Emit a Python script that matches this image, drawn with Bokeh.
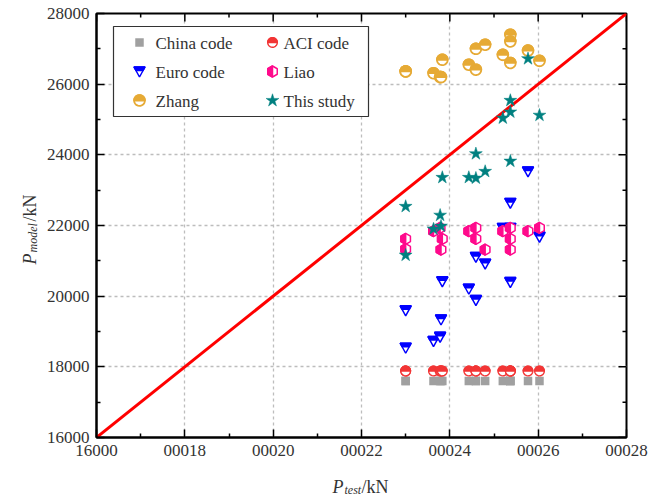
import numpy as np
from bokeh.plotting import figure
from bokeh.layouts import row, column
from bokeh.models import Range1d, FixedTicker, Label
from bokeh.embed import file_html
from bokeh.resources import INLINE

# ---------------- data ----------------
p_test = [23000, 23000, 23630, 23780, 23800, 23830, 24430, 24590,
          24590, 24800, 25200, 25370, 25370, 25370, 25770, 26030]
china_code = [17600, 17600, 17600, 17600, 17600, 17600, 17600, 17600,
              17600, 17600, 17600, 17600, 17600, 17600, 17600, 17600]
aci_code = [17880, 17880, 17880, 17880, 17880, 17880, 17880, 17880,
            17880, 17880, 17880, 17880, 17880, 17880, 17880, 17880]
euro_code = [19600, 18540, 18730, 18850, 19340, 20420, 20210, 21110,
             19890, 20920, 21930, 22640, 20400, 21930, 23530, 21680]
liao = [21620, 21330, 21840, 21930, 21320, 21620, 21840, 21930,
        21620, 21320, 21840, 21930, 21620, 21320, 21840, 21930]
zhang = [26360, 26360, 26310, 26200, 26200, 26690, 26550, 26410,
         27000, 27115, 26830, 27400, 27210, 26600, 26950, 26660]
this_study = [22540, 21160, 21900, 22290, 21980, 23360, 23360, 24030,
              23340, 23530, 25040, 25540, 25210, 23820, 26720, 25120]

ref_line = [16000, 28000]
major_ticks = [16000, 18000, 20000, 22000, 24000, 26000, 28000]
minor_ticks = [17000, 19000, 21000, 23000, 25000, 27000]
x_tick_labels = ["16000", "00018", "00020", "00022", "00024", "00026", "00028"]
y_tick_labels = ["16000", "18000", "20000", "22000", "24000", "26000", "28000"]
series_names = ["China code", "ACI code", "Euro code", "Liao", "Zhang", "This study"]

# ---------------- styles ----------------
FONT = "Liberation Serif"
C_CHINA = "#A0A0A0"
C_ACI = "#F23535"
C_EURO = "#0000FF"
C_LIAO = "#FF0A8C"
C_ZHANG = "#E6AA35"
C_STUDY = "#008080"
TXT = "#333333"

YT_W = 40            # width of the strip holding the y title
XT_H = 28            # height of the strip holding the x title
FW, FH = 530, 424
LEFT, TOP, RIGHT, BOTTOM = 56, 13, 30, 30
X0, X1, Y0, Y1 = 16000, 28000, 16000, 28000
SX = FW / (X1 - X0)
SY = FH / (Y1 - Y0)
FIG_H = TOP + FH + BOTTOM
FIG_W = LEFT + FW + RIGHT

def fx(px):  # page pixel x -> data x
    return X0 + (px - YT_W - LEFT) / SX

def fy(py):  # page pixel y -> data y
    return Y1 - (py - TOP) / SY

p = figure(frame_width=FW, frame_height=FH,
           x_range=Range1d(X0, X1), y_range=Range1d(Y0, Y1),
           output_backend="svg", toolbar_location=None,
           min_border_left=LEFT, min_border_right=RIGHT,
           min_border_top=TOP, min_border_bottom=BOTTOM)
p.outline_line_color = "black"
p.outline_line_width = 2
p.background_fill_color = "white"

ticker = FixedTicker(ticks=major_ticks, minor_ticks=minor_ticks)

def style_axis(ax, labels):
    ax.ticker = ticker
    ax.axis_line_width = 2
    ax.axis_line_color = "black"
    ax.major_tick_in = 8
    ax.major_tick_out = 0
    ax.minor_tick_in = 4
    ax.minor_tick_out = 0
    ax.major_tick_line_width = 1.5
    ax.minor_tick_line_width = 1.5
    ax.major_tick_line_color = "black"
    ax.minor_tick_line_color = "black"
    ax.major_label_overrides = {t: l for t, l in zip(major_ticks, labels)}
    ax.major_label_text_font = FONT
    ax.major_label_text_font_size = "17px"
    ax.major_label_text_color = TXT
    ax.major_label_standoff = 7

style_axis(p.xaxis[0], x_tick_labels)
style_axis(p.yaxis[0], y_tick_labels)

for g in (p.xgrid[0], p.ygrid[0]):
    g.ticker = FixedTicker(ticks=major_ticks[1:-1])
    g.grid_line_color = "#BDBDBD"
    g.grid_line_dash = "3 3"
    g.grid_line_width = 1.3

# inward ticks on the top and right edges of the frame
for ticks, ln in ((major_ticks, 8), (minor_ticks, 4)):
    t = np.array(ticks, dtype=float)
    p.segment(x0=t, y0=np.full_like(t, Y1), x1=t, y1=np.full_like(t, Y1 - ln / SY),
              line_color="black", line_width=1.5)
    p.segment(x0=np.full_like(t, X1), y0=t, x1=np.full_like(t, X1 - ln / SX), y1=t,
              line_color="black", line_width=1.5)

# reference line
p.line(ref_line, ref_line, line_color="#FF0000", line_width=3)

# ---------------- marker shapes (pixel offsets, y up) ----------------
def circle_pts(r, a0=0.0, a1=2 * np.pi, n=28):
    a = np.linspace(a0, a1, n)
    return list(zip(r * np.cos(a), r * np.sin(a)))

ACI_FULL = circle_pts(4.8)
ACI_HALF = circle_pts(4.8, 0, np.pi, 16)
ZH_FULL = circle_pts(5.4)
ZH_HALF = circle_pts(5.4, 0, np.pi, 16)
EU_FULL = [(-5.5, 4.5), (5.5, 4.5), (0, -5.5)]
EU_HALF = [(-5.5, 4.5), (5.5, 4.5), (3.6, 1.0), (-3.6, 1.0)]
hw = 5.5 * np.cos(np.pi / 6)
LI_FULL = [(0, 5.5), (hw, 2.75), (hw, -2.75), (0, -5.5), (-hw, -2.75), (-hw, 2.75)]
LI_HALF = [(0, 5.5), (0, -5.5), (-hw, -2.75), (-hw, 2.75)]

def half_markers(xv, yv, full, half, color, lw):
    xs, ys, fills = [], [], []
    for xc, yc in zip(xv, yv):
        xs.append([xc + dx / SX for dx, dy in full])
        ys.append([yc + dy / SY for dx, dy in full])
        fills.append("white")
        xs.append([xc + dx / SX for dx, dy in half])
        ys.append([yc + dy / SY for dx, dy in half])
        fills.append(color)
    p.patches(xs, ys, fill_color=fills, line_color=color, line_width=lw)

def draw_series(idx, xv, yv):
    if idx == 0:
        p.scatter(xv, yv, marker="square", size=8.5, fill_color=C_CHINA, line_color=None)
    elif idx == 1:
        half_markers(xv, yv, ACI_FULL, ACI_HALF, C_ACI, 1.4)
    elif idx == 2:
        half_markers(xv, yv, EU_FULL, EU_HALF, C_EURO, 1.5)
    elif idx == 3:
        half_markers(xv, yv, LI_FULL, LI_HALF, C_LIAO, 1.5)
    elif idx == 4:
        half_markers(xv, yv, ZH_FULL, ZH_HALF, C_ZHANG, 1.8)
    elif idx == 5:
        p.scatter(xv, yv, marker="star", size=13.5, fill_color=C_STUDY, line_color=C_STUDY, line_width=0.5)

# ---------------- legend box (drawn under its markers) ----------------
p.quad(left=[fx(113)], right=[fx(368)], top=[fy(26)], bottom=[fy(116)],
       fill_color="white", line_color="#333333", line_width=1.2)

# data
all_y = [china_code, aci_code, euro_code, liao, zhang, this_study]
for i, yv in enumerate(all_y):
    draw_series(i, p_test, yv)

# legend entries
col_mx = [139, 272]
col_tx = [155, 283]
row_y = [42, 71, 100]
for i, name in enumerate(series_names):
    r, c = divmod(i, 2)
    draw_series(i, [fx(col_mx[c])], [fy(row_y[r])])
    p.add_layout(Label(x=col_tx[c] - YT_W, y=row_y[r] + 1, x_units="canvas", y_units="canvas",
                       text=name, text_baseline="middle", text_align="left",
                       text_font=FONT, text_font_size="17px", text_color=TXT))

# ---------------- axis titles (in their own strips, so they are not clipped) ----------------
def strip(w, h):
    f = figure(frame_width=w, frame_height=h, x_range=Range1d(0, w), y_range=Range1d(0, h),
               x_axis_type=None, y_axis_type=None, output_backend="svg",
               toolbar_location=None, min_border=0, min_border_left=0,
               min_border_right=0, min_border_top=0, min_border_bottom=0)
    f.title.visible = False
    f.outline_line_color = None
    f.background_fill_color = "white"
    return f

def lab(f, x, y, text, size, italic, angle=0.0):
    f.add_layout(Label(x=x, y=y, x_units="canvas", y_units="canvas", text=text, angle=angle,
                       text_baseline="alphabetic", text_align="left",
                       text_font=FONT, text_font_size=size, text_color=TXT,
                       text_font_style="italic" if italic else "normal"))

ytf = strip(YT_W, FIG_H)
A = np.pi / 2
lab(ytf, 29, 264, "P", "18px", True, A)
lab(ytf, 32, 252, "model", "12px", True, A)
lab(ytf, 29, 221, "/kN", "18px", False, A)

xtf = strip(YT_W + FIG_W, XT_H)
lab(xtf, 332, 19, "P", "18px", True)
lab(xtf, 344, 22, "test", "12px", True)
lab(xtf, 361, 19, "/kN", "18px", False)

layout = column(row(ytf, p), xtf)
open("out.html", "w").write(file_html(layout, INLINE))
